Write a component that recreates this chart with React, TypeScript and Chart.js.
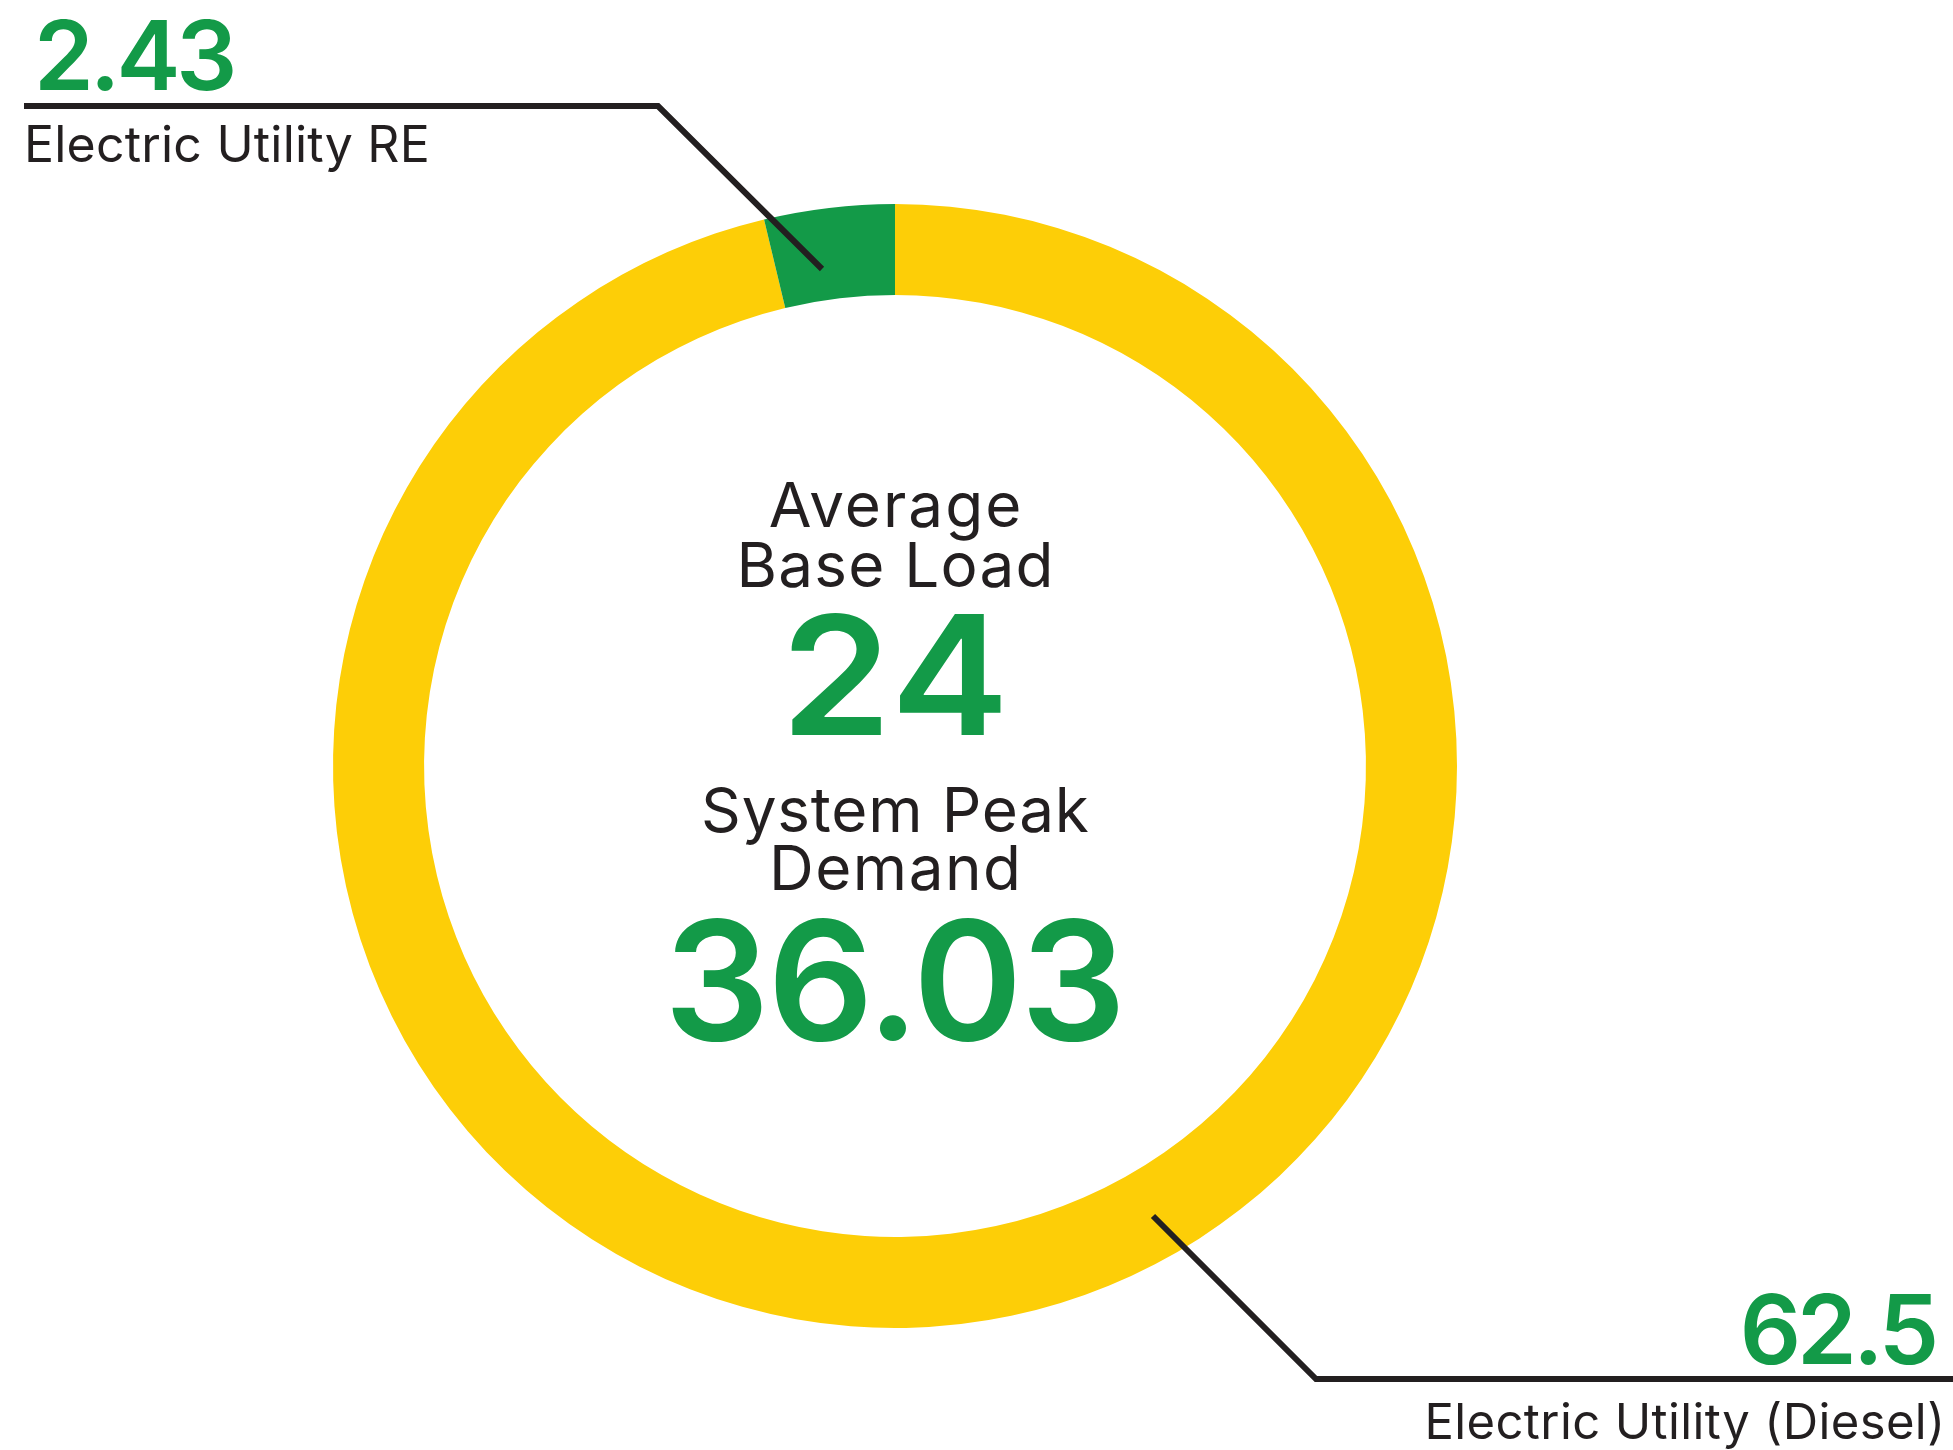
import React, { useEffect, useRef } from 'react';
import { Chart, registerables } from 'chart.js';

Chart.register(...registerables);

const categories = ['Electric Utility (Diesel)', 'Electric Utility RE'];
const values = [62.5, 2.43];
const sliceColors = ['#FDCE07', '#139A48'];
const baseLoadLabel = ['Average', 'Base Load'];
const baseLoadValue = 24;
const peakLabel = ['System Peak', 'Demand'];
const peakValue = 36.03;

const W = 1953;
const H = 1450;
const GREEN = '#139A48';
const DARK = '#231F20';
const FONT = 'Inter, "Open Sans", "DejaVu Sans", sans-serif';

function drawText(
  ctx: CanvasRenderingContext2D,
  text: string,
  x: number,
  y: number,
  align: 'left' | 'center' | 'right',
  ls: number,
  sx = 1
) {
  (ctx as any).letterSpacing = `${ls}px`;
  ctx.textAlign = 'left';
  const w = (ctx.measureText(text).width - ls) * sx;
  let left = x;
  if (align === 'center') left = x - w / 2;
  else if (align === 'right') left = x - w;
  ctx.save();
  ctx.translate(left, y);
  ctx.scale(sx, 1);
  ctx.fillText(text, 0, 0);
  ctx.restore();
  (ctx as any).letterSpacing = '0px';
}

const overlayPlugin = {
  id: 'overlay',
  afterDraw(chart: any) {
    const ctx = chart.ctx as CanvasRenderingContext2D;
    const arc = chart.getDatasetMeta(0).data[0];
    const cx = arc.x;
    ctx.save();
    // leader lines
    ctx.strokeStyle = DARK;
    ctx.lineWidth = 6;
    ctx.lineJoin = 'miter';
    ctx.beginPath();
    ctx.moveTo(24, 106);
    ctx.lineTo(658, 106);
    ctx.lineTo(822, 269);
    ctx.stroke();
    ctx.beginPath();
    ctx.moveTo(1153, 1216);
    ctx.lineTo(1316, 1379);
    ctx.lineTo(W, 1379);
    ctx.stroke();

    ctx.textBaseline = 'alphabetic';
    // top-left label
    ctx.fillStyle = GREEN;
    ctx.font = `600 96px ${FONT}`;
    drawText(ctx, String(values[1]), 34, 90, 'left', -4);
    ctx.fillStyle = DARK;
    ctx.font = `400 50px ${FONT}`;
    drawText(ctx, categories[1], 24, 162, 'left', 0.2);

    // bottom-right label
    ctx.fillStyle = GREEN;
    ctx.font = `600 96px ${FONT}`;
    drawText(ctx, String(values[0]), 1939, 1364, 'right', -4);
    ctx.fillStyle = DARK;
    ctx.font = `400 49px ${FONT}`;
    drawText(ctx, categories[0], 1945, 1439, 'right', 0.4);

    // center
    ctx.fillStyle = DARK;
    ctx.font = `400 62px ${FONT}`;
    drawText(ctx, baseLoadLabel[0], cx, 527, 'center', 2);
    drawText(ctx, baseLoadLabel[1], cx, 587, 'center', 1.2);
    ctx.fillStyle = GREEN;
    ctx.font = `600 166px ${FONT}`;
    drawText(ctx, String(baseLoadValue), cx, 735, 'center', 2, 1.07);
    ctx.fillStyle = DARK;
    ctx.font = `400 62px ${FONT}`;
    drawText(ctx, peakLabel[0], cx, 832, 'center', 0.8);
    drawText(ctx, peakLabel[1], cx, 890, 'center', 1.5);
    ctx.fillStyle = GREEN;
    ctx.font = `600 166px ${FONT}`;
    drawText(ctx, String(peakValue), cx, 1040, 'center', -2);
    ctx.restore();
  },
};

export default function App() {
  const ref = useRef<HTMLCanvasElement>(null);
  useEffect(() => {
    document.body.style.margin = '0';
    const chart = new Chart(ref.current!, {
      type: 'doughnut',
      data: {
        labels: categories,
        datasets: [
          {
            data: values,
            backgroundColor: sliceColors,
            borderWidth: 0,
          },
        ],
      },
      options: {
        animation: false,
        responsive: false,
        devicePixelRatio: 1,
        cutout: '83.8%',
        layout: { padding: { left: 333, right: 496, top: 204, bottom: 122 } },
        plugins: {
          legend: { display: false },
          tooltip: { enabled: false },
        },
      },
      plugins: [overlayPlugin],
    });
    return () => chart.destroy();
  }, []);
  return (
    <div style={{ width: W, height: H, background: '#fff' }}>
      <canvas ref={ref} width={W} height={H} style={{ display: 'block' }} />
    </div>
  );
}
